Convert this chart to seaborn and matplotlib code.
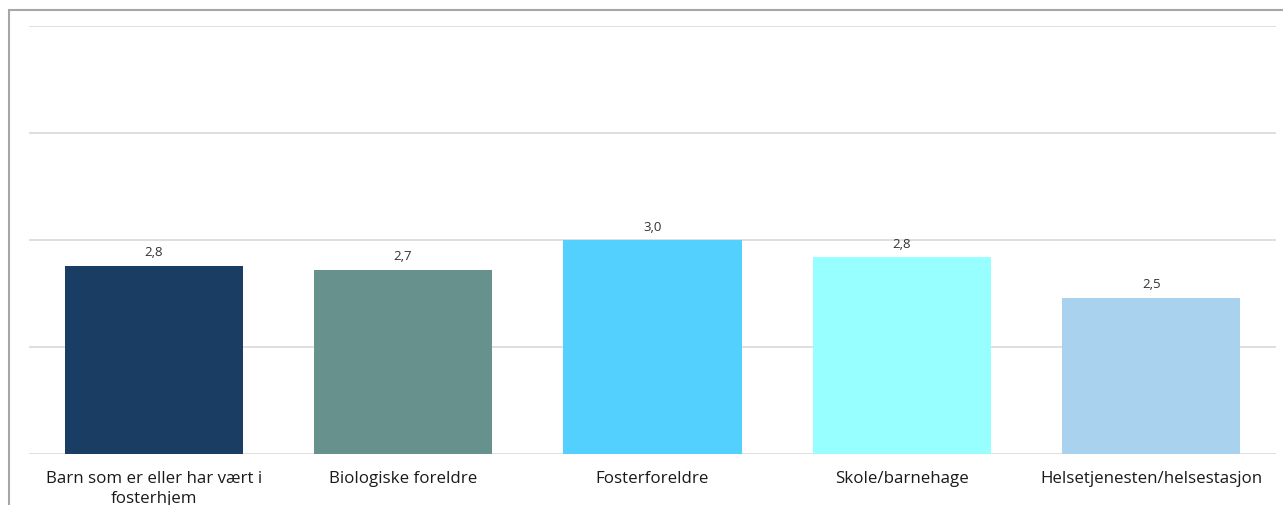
import matplotlib
matplotlib.use("Agg")
import matplotlib.pyplot as plt
import seaborn as sns
import pandas as pd
from matplotlib.patches import Rectangle

# data (scale 1-5)
categories = ["Barn som er eller har vært i\nfosterhjem", "Biologiske foreldre",
              "Fosterforeldre", "Skole/barnehage", "Helsetjenesten/helsestasjon"]
values = [2.76, 2.72, 3.00, 2.84, 2.46]
colors = ["#193D63", "#66918C", "#54D0FE", "#97FFFF", "#A8D2EE"]

df = pd.DataFrame({"kategori": categories, "verdi": values})

sns.set_style("white")
plt.rcParams["font.family"] = ["Open Sans", "DejaVu Sans"]

fig = plt.figure(figsize=(12.83, 5.06), dpi=100)
ax = fig.add_axes([29 / 1283, 1 - 455 / 506, (1276 - 29) / 1283, (455 - 27) / 506])

sns.barplot(data=df, x="kategori", y="verdi", hue="kategori", palette=colors,
            width=0.714, legend=False, ax=ax, saturation=1, linewidth=0)

# bars start from 1 on the axis
for p in ax.patches:
    h = p.get_height()
    p.set_y(1)
    p.set_height(h - 1)

ax.set_ylim(1, 5)
ax.set_yticks([1, 2, 3, 4, 5])
ax.set_yticklabels([])
ax.tick_params(axis="y", length=0)
ax.tick_params(axis="x", length=0, pad=11.5, labelsize=12.2, colors="#1a1a1a")
for lbl in ax.get_xticklabels():
    lbl.set_linespacing(1.3)
ax.yaxis.grid(True, color="#d9d9d9", linewidth=1.2)
ax.set_axisbelow(True)
for s in ax.spines.values():
    s.set_visible(False)
ax.set_xlabel("")
ax.set_ylabel("")

for i, v in enumerate(values):
    ax.text(i, v + 0.07, f"{v:.1f}".replace(".", ","), ha="center", va="bottom",
            fontsize=9.5, color="#333333")

# frame around the chart area
fig.patches.append(Rectangle((9 / 1283, -0.1), 1.2, 1.1 - 11 / 506,
                             transform=fig.transFigure, fill=False,
                             edgecolor="#a6a6a6", linewidth=1.5))

fig.savefig("out.png", dpi=100)
